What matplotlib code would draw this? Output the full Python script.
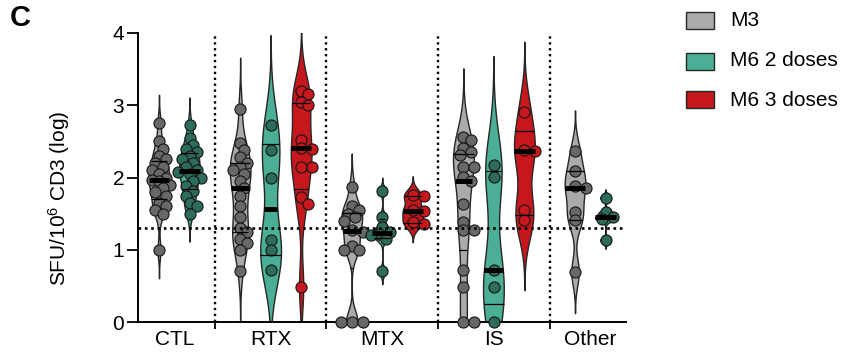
import numpy as np
import matplotlib
matplotlib.use('Agg')
import matplotlib.pyplot as plt
from matplotlib.patches import Rectangle

plt.rcParams['font.family'] = ['Liberation Sans', 'DejaVu Sans']
plt.rcParams['mathtext.default'] = 'regular'

# ---------------- data ----------------
groups = ['CTL', 'RTX', 'MTX', 'IS', 'Other']
series = ['M3', 'M6 2 doses', 'M6 3 doses']
threshold = 1.3

ctl_m3 = [2.75, 2.5, 2.4, 2.3, 2.25, 2.2, 2.15, 2.1, 2.05, 2.0, 1.97, 1.95, 1.9,
          1.85, 1.8, 1.75, 1.65, 1.6, 1.55, 1.5, 1.0]
ctl_m6_2 = [2.72, 2.55, 2.45, 2.4, 2.35, 2.3, 2.25, 2.2, 2.15, 2.1, 2.08, 2.05, 2.0,
            1.95, 1.88, 1.82, 1.75, 1.65, 1.6, 1.5]
rtx_m3 = [2.95, 2.48, 2.38, 2.28, 2.2, 2.15, 2.1, 2.05, 1.95, 1.85, 1.75, 1.6, 1.45,
          1.3, 1.25, 1.15, 1.1, 1.0, 0.7]
rtx_m6_2 = [2.73, 2.38, 2.0, 1.13, 1.0, 0.72]
rtx_m6_3 = [3.2, 3.15, 3.05, 3.0, 2.52, 2.41, 2.4, 2.15, 2.15, 1.73, 1.64, 0.49]
mtx_m3 = [1.87, 1.6, 1.55, 1.5, 1.45, 1.4, 1.27, 1.25, 1.05, 1.0, 1.0, 0, 0, 0]
mtx_m6_2 = [1.82, 1.46, 1.32, 1.25, 1.22, 1.2, 1.15, 0.7]
mtx_m6_3 = [1.76, 1.74, 1.55, 1.53, 1.38, 1.36]
is_m3 = [2.56, 2.52, 2.41, 2.35, 2.31, 2.15, 2.15, 2.01, 1.95, 1.64, 1.39, 1.27,
         1.27, 0.72, 0.49, 0, 0]
is_m6_2 = [2.17, 2.01, 0.72, 0.49, 0]
is_m6_3 = [2.91, 2.38, 2.36, 1.55, 1.41]
other_m3 = [2.36, 2.09, 1.88, 1.86, 1.52, 1.41, 0.69]
other_m6_2 = [1.72, 1.52, 1.45, 1.42, 1.13]

group_data = {
    'CTL': [ctl_m3, ctl_m6_2],
    'RTX': [rtx_m3, rtx_m6_2, rtx_m6_3],
    'MTX': [mtx_m3, mtx_m6_2, mtx_m6_3],
    'IS': [is_m3, is_m6_2, is_m6_3],
    'Other': [other_m3, other_m6_2],
}

# ---------------- style ----------------
fill_colors = ['#aaaaaa', '#4aaf95', '#c6171d']
marker_colors = ['#686868', '#2d6b5b', '#c8181d']
edge_color = '#262626'
GAP = 1.66
HALF_W = 0.34
PX_X = 30.5   # px per x unit
PX_Y = 72.25  # px per y unit
BW_SCALE = 0.8

fig = plt.figure(figsize=(8.52, 3.53), dpi=100)
ax = fig.add_axes([138 / 852, 1 - 322 / 353, (626 - 138) / 852, (322 - 33) / 353])


def kde(vals, grid, h):
    v = np.asarray(vals)[:, None]
    return np.exp(-0.5 * ((grid[None, :] - v) / h) ** 2).sum(0)


def swarm(vals, diam=10.5):
    vals = np.asarray(vals, float)
    offs = np.zeros(len(vals))
    placed = []
    step = 0.35 * diam
    mind = 0.72 * diam
    for i in np.argsort(-vals, kind='stable'):
        y = vals[i] * PX_Y
        best, bestd = 0.0, -1
        chosen = None
        for k in range(0, 4):
            for sgn in ([0] if k == 0 else [1, -1]):
                x = sgn * k * step
                dmin = min([np.hypot(x - px, y - py) for px, py in placed] + [1e9])
                if dmin >= mind:
                    chosen = x
                    break
                if dmin > bestd:
                    best, bestd = x, dmin
            if chosen is not None:
                break
        if chosen is None:
            chosen = best
        offs[i] = chosen / PX_X
        placed.append((chosen, y))
    return offs


pos = 0.0
centers = []
seps = []
prev_last = None
for gi, g in enumerate(groups):
    series_list = group_data[g]
    if gi > 0:
        pos = prev_last + GAP
        seps.append((prev_last + pos) / 2)
    xs = []
    for si, vals in enumerate(series_list):
        x = pos + si
        xs.append(x)
        v = np.asarray(vals, float)
        n = len(v)
        sd = v.std(ddof=1)
        q25, q75 = np.percentile(v, [25, 75])
        s = min(sd, (q75 - q25) / 1.34) if q75 > q25 else sd
        h = BW_SCALE * 0.9 * s * n ** -0.2
        grid = np.linspace(v.min() - 3 * h, v.max() + 3 * h, 500)
        d = kde(v, grid, h)
        d = d / d.max() * HALF_W
        ax.fill_betweenx(grid, x - d, x + d, facecolor=fill_colors[si],
                         edgecolor=edge_color, lw=1.0, zorder=2)
        offs = swarm(v)
        ax.scatter(x + offs, v, s=64, facecolor=marker_colors[si],
                   edgecolor='#161616', linewidth=0.8, zorder=3, clip_on=False)
        q1, med, q3 = np.percentile(v, [25, 50, 75], method='weibull')
        for q, lw in ((q1, 0.9), (q3, 0.9), (med, 3.6)):
            w = np.interp(q, grid, d)
            ax.plot([x - w, x + w], [q, q], color='black', lw=lw,
                    solid_capstyle='butt', zorder=4)
    centers.append(np.mean(xs))
    prev_last = xs[-1]

for sx in seps:
    ax.axvline(sx, color='black', lw=1.7, ls=(0, (1, 1.5)), zorder=1)
ax.axhline(threshold, color='black', lw=1.9, ls=(0, (1, 1.4)), zorder=5)

ax.set_xlim(-21 / PX_X, (626 - 159) / PX_X)
ax.set_ylim(0, 4)
ax.set_yticks([0, 1, 2, 3, 4])
ax.set_xticks(centers)
ax.set_xticklabels(groups)
ax.set_xticks(seps, minor=True)
ax.tick_params(axis='x', which='major', length=0, pad=6, labelsize=15)
ax.tick_params(axis='x', which='minor', length=5, width=1.3)
ax.tick_params(axis='y', length=8, width=1.3, pad=2, labelsize=15)
for sp in ['top', 'right']:
    ax.spines[sp].set_visible(False)
for sp in ['left', 'bottom']:
    ax.spines[sp].set_linewidth(1.4)

ax.set_ylabel('SFU/10$^{6}$ CD3 (log)', fontsize=15)
ax.yaxis.set_label_coords((72 - 138) / 488, (322 - 198) / 289)

fig.text(10 / 852, 1 - 4 / 353, 'C', fontsize=21, fontweight='bold', va='top', ha='left')

leg_y = [20, 61, 100]
for i, lab in enumerate(series):
    fig.patches.append(Rectangle((686 / 852, 1 - (leg_y[i] + 8.5) / 353), 28 / 852, 17 / 353,
                                 transform=fig.transFigure, facecolor=fill_colors[i],
                                 edgecolor=edge_color, lw=1))
    fig.text(730 / 852, 1 - leg_y[i] / 353, lab, fontsize=15, va='center', ha='left')

fig.savefig('out.png', dpi=100)
